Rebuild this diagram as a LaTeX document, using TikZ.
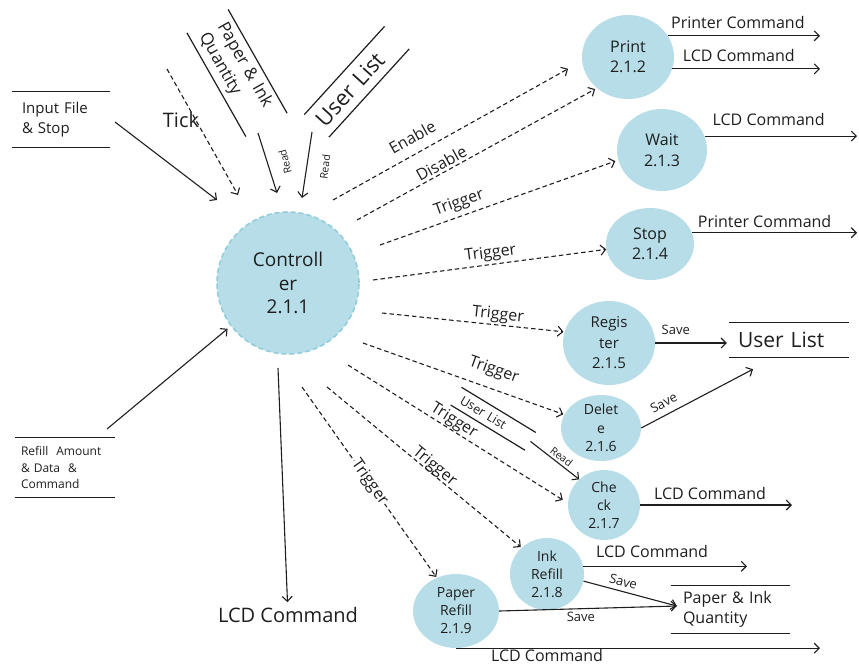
\documentclass[tikz,border=0pt]{standalone}
\usepackage{fontspec}
\setmainfont{Open Sans}
\usetikzlibrary{arrows.meta,shapes.geometric}
\definecolor{bubble}{HTML}{B7DEE8}
\definecolor{rim}{HTML}{92CDDC}
\definecolor{ink}{HTML}{1E1E1E}
\newcommand{\fs}[2]{\fontsize{#1}{#2}\selectfont}

\begin{document}
\begin{tikzpicture}[x=1pt,y=-1pt,
  every node/.style={text=ink},
  proc/.style={ellipse, fill=bubble, inner sep=0pt},
  ptext/.style={font=\fs{14}{18}, align=center, text=ink, inner sep=0pt},
  flow/.style={draw=ink, line width=1.1pt, -{Straight Barb[length=5pt,width=10pt]}},
  trig/.style={flow, dash pattern=on 4.5pt off 3pt},
  rule/.style={draw=ink, line width=1.2pt},
  store/.style={inner ysep=0pt, align=left},
  lbl/.style={font=\fs{16}{19}, inner sep=1.5pt},
  note/.style={font=\fs{13}{15}, inner sep=1.5pt},
  tag/.style={font=\fs{10.5}{12}, inner sep=1pt},
]
\useasboundingbox (0,0) rectangle (859,665);

% processes
\node[proc, draw=rim, dash pattern=on 5pt off 3pt, line width=1.6pt,
      minimum width=142pt, minimum height=142pt,
      label={[ptext, font=\fs{19}{23.5}]center:Controll\\er\\2.1.1}] (ctrl) at (288,283) {};
\node[proc, minimum width=92pt, minimum height=84pt,
      label={[ptext, font=\fs{16}{20}]center:Print\\2.1.2}] (print) at (628,57) {};
\node[proc, minimum width=90pt, minimum height=82pt,
      label={[ptext, font=\fs{16}{21}]center:Wait\\2.1.3}] (wait) at (662,150) {};
\node[proc, minimum width=88pt, minimum height=72pt,
      label={[ptext, font=\fs{16}{20}]center:Stop\\2.1.4}] (stop) at (650,244) {};
\node[proc, minimum width=92pt, minimum height=84pt,
      label={[ptext, font=\fs{15}{20.5}]center:Regis\\ter\\2.1.5}] (reg) at (609,343) {};
\node[proc, minimum width=80pt, minimum height=66pt,
      label={[ptext, font=\fs{14}{18.5}]center:Delet\\e\\2.1.6}] (del) at (601,428) {};
\node[proc, minimum width=72pt, minimum height=70pt,
      label={[ptext]center:Che\\ck\\2.1.7}] (chk) at (604,505) {};
\node[proc, minimum width=74pt, minimum height=72pt,
      label={[ptext]center:Ink\\Refill\\2.1.8}] (ink) at (547,574) {};
\node[proc, minimum width=86pt, minimum height=74pt,
      label={[ptext]center:Paper\\Refill\\2.1.9}] (pap) at (456,611) {};

% data stores
\node[store, font=\fs{15}{20}, minimum height=55pt, text width=78pt, inner xsep=10pt] (inp) at (61,119.5) {Input File\\\& Stop};
\node[store, font=\fs{12}{16.5}, minimum height=59pt, text width=88pt, inner xsep=6pt] (refill) at (65,467.5) {Refill\ \ Amount\\\&\ Data\ \ \&\\Command};
\node[store, font=\fs{16}{20}, minimum height=47pt, text width=95pt, inner xsep=12pt] (pq) at (730.5,609.5) {Paper \& Ink\\Quantity};
\node[store, font=\fs{21}{24}, minimum height=34pt, text width=102pt, inner xsep=9pt] (ulist) at (789,340) {User List};
\node[store, rotate=-60.4, font=\fs{17}{21}, minimum height=47pt, text width=101pt, inner xsep=9pt] (pqTop) at (237,73) {Paper \& Ink\\Quantity};
\node[store, rotate=47.7, font=\fs{22}{24}, minimum height=33pt, text width=111pt, inner xsep=4pt] (ulTop) at (356.75,81.75) {User List};
\node[store, rotate=-31.3, font=\fs{12.5}{14}, minimum height=20.4pt, text width=74.6pt, inner xsep=6pt] (ulMid) at (493.25,418.75) {User List};
\foreach \s in {inp,refill,pq,ulist,pqTop,ulTop,ulMid}
  \draw[rule] (\s.north west) -- (\s.north east) (\s.south west) -- (\s.south east);

% free labels
\node[font=\fs{20}{24}, inner sep=2pt] (lcdOut) at (288,615) {LCD Command};
\node[font=\fs{20}{24}] (tickL) at (181,120) {Tick};

% loose ends
\coordinate (inS) at (115,122);  \coordinate (inT) at (217,200);
\coordinate (tkS) at (167,69);   \coordinate (tkT) at (238,195);
\coordinate (rdAS) at (258,133); \coordinate (rdAT) at (277,193);
\coordinate (rdBS) at (312,132); \coordinate (rdBT) at (302,198);
\coordinate (rfS) at (107,429);  \coordinate (lcdS) at (278,368);
\coordinate (sEn) at (333,200);  \coordinate (sDi) at (357,220);
\coordinate (sWa) at (380,245);  \coordinate (sSt) at (373,280);
\coordinate (sRe) at (382,313);  \coordinate (sDe) at (363,343);
\coordinate (sCh) at (348,365);  \coordinate (sIn) at (327,387);
\coordinate (sPa) at (302,387);
\coordinate (edgeA) at (820,0);  \coordinate (edgeB) at (857,0);
\coordinate (edgeC) at (792,0);  \coordinate (edgeD) at (747,0);

% inputs to the controller
\draw[flow] (inS) -- (inT);
\draw[trig] (tkS) -- (tkT);
\draw[flow] (rdAS) -- (rdAT);
\draw[flow] (rdBS) -- (rdBT);
\node[tag, rotate=105] (rdAL) at (285,162) {Read};
\node[tag, rotate=83] (rdBL) at (325,167) {Read};
\draw[flow, shorten >=4pt] (rfS) -- (ctrl.217);
\draw[flow, shorten >=3pt] (lcdS) -- (lcdOut);

% control flows
\draw[trig, shorten >=16pt] (sEn) -- node[lbl, sloped, above=8pt, pos=0.35] (lEn) {Enable} (print.185);
\draw[trig, shorten >=2pt] (sDi) -- node[lbl, sloped, above=1pt, pos=0.37] (lDi) {Disable} (print.225);
\draw[trig, shorten >=3pt] (sWa) -- node[lbl, sloped, above=3pt, pos=0.35] (lWa) {Trigger} (wait.193);
\draw[trig] (sSt) -- node[lbl, sloped, above=1pt, pos=0.51] (lSt) {Trigger} (stop.187);
\draw[trig, shorten >=1pt] (sRe) -- node[lbl, sloped, above=0pt, pos=0.63] (lRe) {Trigger} (reg.166);
\draw[trig, shorten >=1pt] (sDe) -- node[lbl, sloped, above=8pt, pos=0.62] (lDe) {Trigger} (del.160);
\draw[trig, shorten >=6pt] (sCh) -- node[lbl, sloped, above=-1pt, pos=0.46] (lCh) {Trigger} (chk.177);
\draw[trig, shorten >=1pt] (sIn) -- node[lbl, sloped, above=-3pt, pos=0.53] (lIn) {Trigger} (ink.134);
\draw[trig, shorten >=1pt] (sPa) -- node[lbl, sloped, fill=white, inner sep=0.5pt, pos=0.5] (lPa) {Trigger} (pap.120);

% outputs
\draw[flow] (print.28) -- node[lbl, above=5pt, pos=0.46] (oP1) {Printer Command} (print.28 -| edgeA);
\draw[flow] (print.-15) -- node[lbl, above=5pt, pos=0.45] (oP2) {LCD Command} (print.-15 -| edgeA);
\draw[flow] (wait.18) -- node[lbl, above=8pt, pos=0.42] (oW) {LCD Command} (wait.18 -| edgeB);
\draw[flow] (stop.15) -- node[lbl, above=3.5pt, pos=0.44] (oS) {Printer Command} (stop.15 -| edgeB);
\draw[flow, shorten >=2pt] (reg.east) -- node[note, above=6pt, pos=0.28] (oR) {Save} (reg.east -| ulist.west);
\draw[flow] (del.east) -- node[note, sloped, above=5pt, pos=0.25] (oD) {Save} ([shift={(-36pt,-12pt)}]ulist.south);
\draw[flow] (ulMid.east) -- node[tag, sloped, above=1.5pt, pos=0.55] (oRd) {Read} (chk.134);
\draw[flow] (chk.east) -- node[lbl, above=3.5pt, pos=0.46] (oC) {LCD Command} (chk.east -| edgeC);
\draw[flow] (ink.12) -- node[lbl, above=7pt, pos=0.42] (oI) {LCD Command} (ink.12 -| edgeD);
\draw[flow] (ink.-11) -- node[note, sloped, above=3pt, pos=0.4] (oIs) {Save} ([shift={(6pt,3.5pt)}]pq.west);
\draw[flow] (pap.east) -- node[note, below=1pt, pos=0.46] (oPs) {Save} ([shift={(6pt,3.5pt)}]pq.west);
\draw[flow] (pap.south) -- node[lbl, below=-1pt, pos=0.25] (oPl) {LCD Command} (pap.south -| edgeA);
\end{tikzpicture}
\end{document}
